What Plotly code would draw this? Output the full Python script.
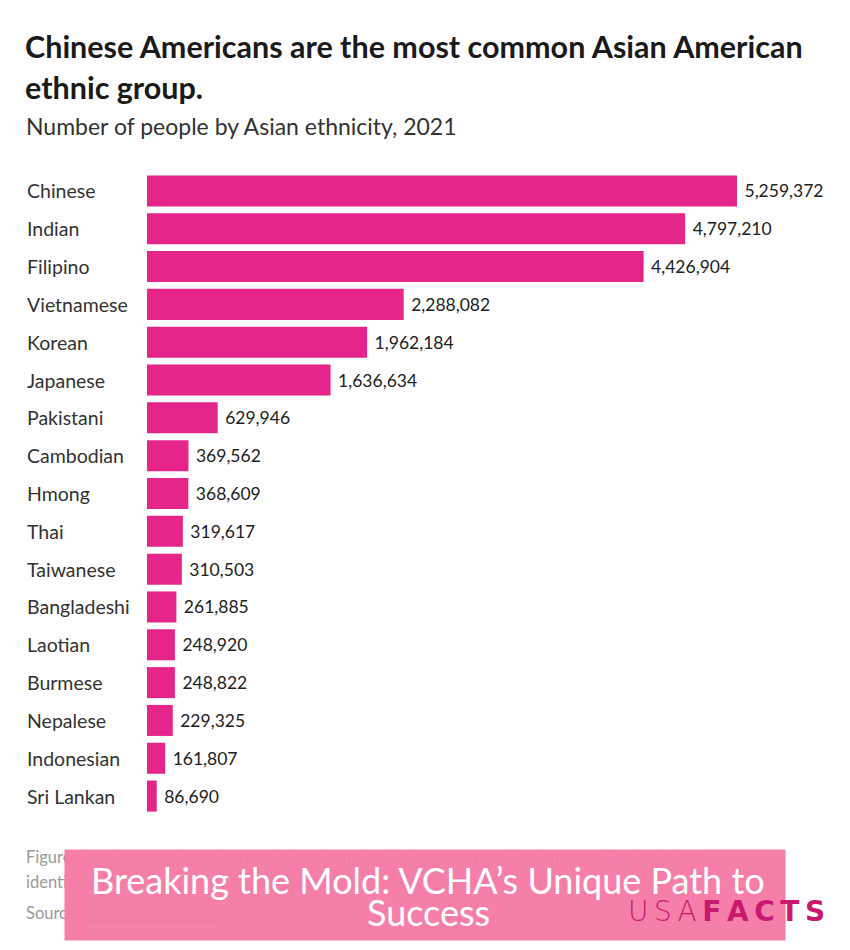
import plotly.graph_objects as go

categories = ["Chinese", "Indian", "Filipino", "Vietnamese", "Korean", "Japanese",
              "Pakistani", "Cambodian", "Hmong", "Thai", "Taiwanese", "Bangladeshi",
              "Laotian", "Burmese", "Nepalese", "Indonesian", "Sri Lankan"]
values = [5259372, 4797210, 4426904, 2288082, 1962184, 1636634, 629946, 369562,
          368609, 319617, 310503, 261885, 248920, 248822, 229325, 161807, 86690]
value_labels = [" " + f"{v:,}" for v in values]

OFF = 8  # page offset of the figure div
W, H = 842, 942
ML, MR, MT, MB = 147 - OFF, 20, 172 - OFF, 135
PW = W - ML - MR
PH = H - MT - MB
BAR_COLOR = "#E5258A"
FONT = "Lato"


def px_x(px):
    return (px - OFF - ML) / PW


def px_y(py):
    return 1 - (py - OFF - MT) / PH


fig = go.Figure(go.Bar(
    x=values, y=categories, orientation="h",
    marker=dict(color=BAR_COLOR, line=dict(width=0)),
    text=value_labels, textposition="outside",
    textfont=dict(family=FONT, size=17.5, color="#222222"),
    cliponaxis=False, width=0.82,
))

annotations = []
for c in categories:
    annotations.append(dict(
        x=px_x(25), xref="paper", y=c, yref="y",
        text=c, showarrow=False, xanchor="left", yanchor="middle",
        font=dict(family=FONT, size=19.5, color="#333333"),
    ))


def txt(x, y, text, size, color, anchor="left", family=FONT, **kw):
    d = dict(x=px_x(x), y=px_y(y), xref="paper", yref="paper", xanchor=anchor,
             yanchor="middle", text=text, showarrow=False,
             font=dict(family=family, size=size, color=color))
    d.update(kw)
    return d


annotations += [
    txt(23, 46, "<b>Chinese Americans are the most common Asian American</b>", 30.5, "#1a1a1a"),
    txt(23, 87, "<b>ethnic group.</b>", 30.5, "#1a1a1a"),
    txt(24, 126, "Number of people by Asian ethnicity, 2021", 23, "#333333"),
    # footer
    txt(24, 857, "Figures include those that identify as one ethnicity in combination with another. Due to mixed",
        16.5, "#9a9a9a"),
    txt(24, 882, "identities, these groups do not add up to the total Asian population of the US.",
        16.5, "#9a9a9a"),
    txt(24, 913, "Source: <u>US Census Bureau</u>", 16.5, "#9a9a9a"),
    # overlay banner
    txt(425, 895, " ", 10, "#ffffff", anchor="center",
        width=720, height=90, bgcolor="rgba(246,122,165,0.96)", borderpad=0),
    txt(428, 880, "Breaking the Mold: VCHA’s Unique Path to", 36, "#ffffff", anchor="center"),
    txt(428, 912, "Success", 36, "#ffffff", anchor="center"),
    # logo
    txt(827, 911,
        "<span style='font-weight:300'>U\u2009S\u2009A\u2009</span><b>F\u2009A\u2009C\u2009T\u2009S</b>",
        28, "#C8196F", anchor="right", family="DejaVu Sans"),
]

fig.update_layout(
    width=W, height=H,
    margin=dict(l=ML, r=MR, t=MT, b=MB),
    plot_bgcolor="white", paper_bgcolor="white",
    showlegend=False,
    bargap=0.18,
    xaxis=dict(range=[0, PW * values[0] / 590], visible=False, fixedrange=True),
    yaxis=dict(autorange="reversed", showticklabels=False, showgrid=False, zeroline=False,
               ticks="", fixedrange=True),
    annotations=annotations,
)

fig.write_html("out.html")
